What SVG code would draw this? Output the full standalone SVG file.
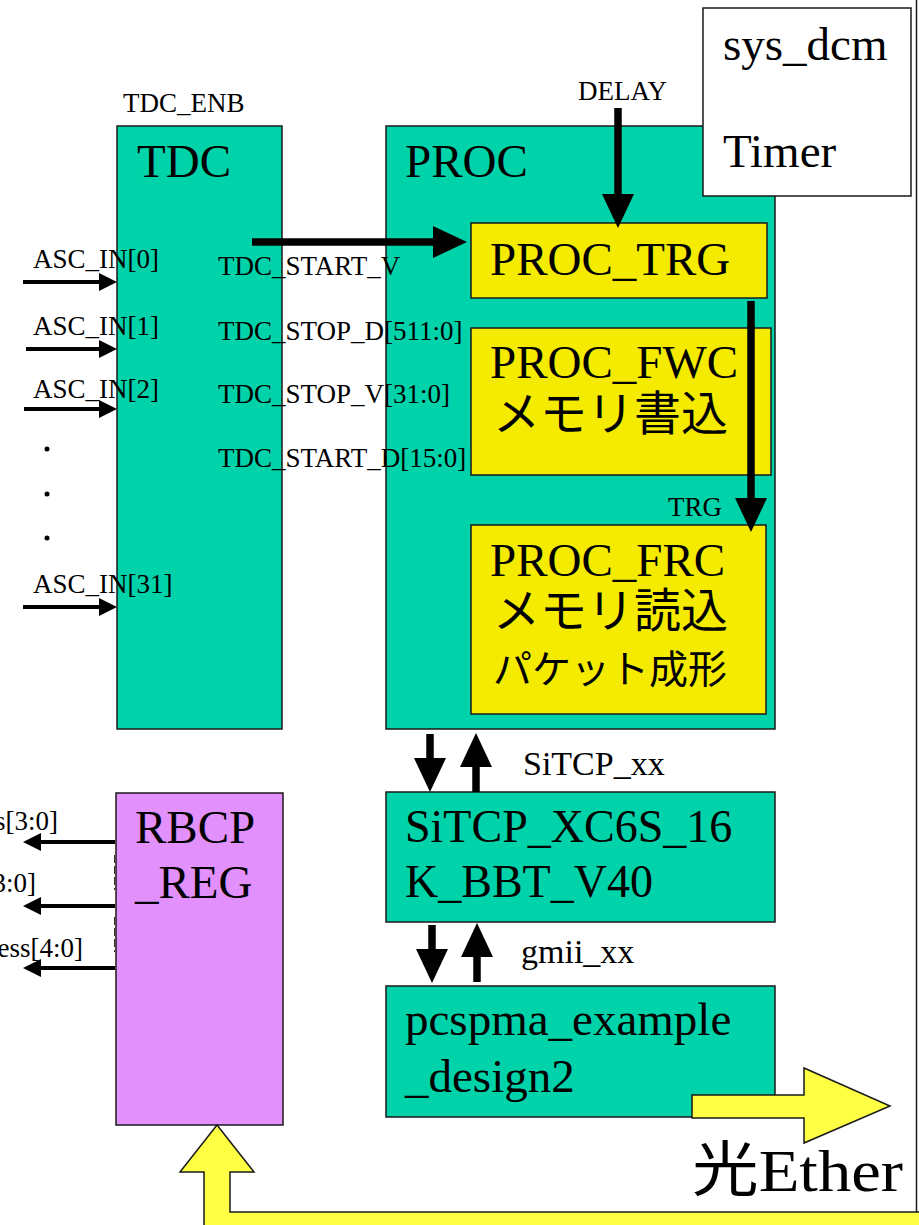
<svg xmlns="http://www.w3.org/2000/svg" width="919" height="1225" viewBox="0 0 919 1225">
<style>
.bg{fill:#ffffff}
.teal{fill:#00D2AA;stroke:#1a1a1a;stroke-width:1.5}
.yel{fill:#F5EB00;stroke:#1a1a1a;stroke-width:1.5}
.pur{fill:#E290FC;stroke:#1a1a1a;stroke-width:1.5}
.wbox{fill:#ffffff;stroke:#1a1a1a;stroke-width:1.5}
.big{fill:#FFFF44;stroke:#1a1a1a;stroke-width:1.5}
.t{font-family:"Liberation Serif","Noto Sans CJK JP",serif;fill:#000}
.s{font-size:27px}
.m{font-size:34px}
.l{font-size:47px}
.j{font-family:"Noto Sans CJK JP","Liberation Serif",serif;fill:#000}
.thick{stroke:#000;stroke-width:7.5;fill:none}
.thin{stroke:#000;stroke-width:4;fill:none}
.tick{stroke:#333;stroke-width:1;stroke-dasharray:8 3;fill:none}
</style>
<defs>
<marker id="ahB" markerUnits="userSpaceOnUse" markerWidth="36" markerHeight="34" viewBox="0 -17 36 34" refX="1" refY="0" orient="auto"><path d="M0,-16 L34,0 L0,16 z" fill="#000"/></marker>
<marker id="ahS" markerUnits="userSpaceOnUse" markerWidth="20" markerHeight="20" viewBox="0 -10 20 20" refX="1" refY="0" orient="auto"><path d="M0,-9 L18,0 L0,9 z" fill="#000"/></marker>
</defs>
<rect class="bg" x="0" y="0" width="919" height="1225"/>

<g id="tdc">
<rect class="teal" x="117" y="126" width="165" height="603"/>
<text class="t l" x="137" y="177">TDC</text>
</g>
<g id="proc">
<rect class="teal" x="386" y="126" width="389" height="603"/>
<text class="t l" x="405" y="177">PROC</text>
</g>
<g id="proc_trg">
<rect class="yel" x="471" y="223" width="296" height="75"/>
<text class="t l" x="490" y="275">PROC_TRG</text>
</g>
<g id="proc_fwc">
<rect class="yel" x="471" y="328" width="300" height="147"/>
<text class="t l" x="490" y="378">PROC_FWC</text>
<text class="j" font-size="47" x="493" y="430">メモリ書込</text>
</g>
<g id="proc_frc">
<rect class="yel" x="471" y="525" width="295" height="189"/>
<text class="t l" x="490" y="576">PROC_FRC</text>
<text class="j" font-size="47" x="493" y="627">メモリ読込</text>
<text class="j" font-size="39" x="493" y="683">パケット成形</text>
</g>
<g id="sys_dcm">
<rect class="wbox" x="703" y="8" width="208" height="188"/>
<text class="t l" x="723" y="60">sys_dcm</text>
<text class="t l" x="723" y="167">Timer</text>
</g>
<g id="sitcp">
<rect class="teal" x="386" y="792" width="389" height="130"/>
<text class="t" font-size="46" x="405" y="842">SiTCP_XC6S_16</text>
<text class="t" font-size="46" x="405" y="897">K_BBT_V40</text>
</g>
<g id="pcspma">
<rect class="teal" x="386" y="986" width="389" height="131"/>
<text class="t l" x="405" y="1035">pcspma_example</text>
<text class="t l" x="405" y="1092">_design2</text>
</g>
<g id="rbcp_reg">
<rect class="pur" x="116" y="793" width="167" height="332"/>
<text class="t l" x="135" y="843">RBCP</text>
<text class="t l" x="135" y="898">_REG</text>
</g>

<g id="labels">
<text class="t s" x="123" y="112">TDC_ENB</text>
<text class="t s" x="578" y="100">DELAY</text>
<text class="t s" x="33" y="268">ASC_IN[0]</text>
<text class="t s" x="33" y="335">ASC_IN[1]</text>
<text class="t s" x="33" y="398">ASC_IN[2]</text>
<text class="t s" x="33" y="593">ASC_IN[31]</text>
<circle cx="47" cy="449" r="2.5" fill="#000"/>
<circle cx="47" cy="494" r="2.5" fill="#000"/>
<circle cx="47" cy="538" r="2.5" fill="#000"/>
<text class="t s" x="218" y="275">TDC_START_V</text>
<text class="t s" x="218" y="340">TDC_STOP_D[511:0]</text>
<text class="t s" x="218" y="403">TDC_STOP_V[31:0]</text>
<text class="t s" x="218" y="467">TDC_START_D[15:0]</text>
<text class="t s" x="668" y="516">TRG</text>
<text class="t m" x="523" y="775">SiTCP_xx</text>
<text class="t m" x="521" y="963">gmii_xx</text>
<text class="t s" x="58" y="830" text-anchor="end">s[3:0]</text>
<text class="t s" x="36" y="892" text-anchor="end">3:0]</text>
<text class="t s" x="83" y="957" text-anchor="end">ess[4:0]</text>
</g>

<g id="connectors">
<line class="thin" x1="23" y1="282" x2="100" y2="282" marker-end="url(#ahS)"/>
<line class="thin" x1="26" y1="349" x2="100" y2="349" marker-end="url(#ahS)"/>
<line class="thin" x1="24" y1="409" x2="100" y2="409" marker-end="url(#ahS)"/>
<line class="thin" x1="23" y1="607" x2="100" y2="607" marker-end="url(#ahS)"/>
<line class="thin" x1="115" y1="842" x2="40" y2="842" marker-end="url(#ahS)"/>
<line class="thin" x1="115" y1="906" x2="40" y2="906" marker-end="url(#ahS)"/>
<line class="thin" x1="115" y1="968" x2="40" y2="968" marker-end="url(#ahS)"/>
<line class="tick" x1="114.5" y1="855" x2="114.5" y2="890"/>
<line class="tick" x1="114.5" y1="917" x2="114.5" y2="952"/>
<line class="thick" x1="252" y1="242" x2="434" y2="242" marker-end="url(#ahB)"/>
<line class="thick" x1="618" y1="108" x2="618" y2="195" marker-end="url(#ahB)"/>
<line class="thick" x1="751" y1="301" x2="751" y2="499" marker-end="url(#ahB)"/>
<line class="thick" x1="430" y1="734" x2="430" y2="759" marker-end="url(#ahB)"/>
<line class="thick" x1="476" y1="792" x2="476" y2="766" marker-end="url(#ahB)"/>
<line class="thick" x1="432" y1="925" x2="432" y2="950" marker-end="url(#ahB)"/>
<line class="thick" x1="477" y1="982" x2="477" y2="956" marker-end="url(#ahB)"/>
<line x1="916.5" y1="0" x2="916.5" y2="1212" stroke="#1a1a1a" stroke-width="1.5"/>
<polygon class="big" points="692,1095 804,1095 804,1068 890,1106 804,1143 804,1118 692,1118"/>
<polygon class="big" points="217,1125 254,1172 230,1172 230,1212 921,1212 921,1230 204,1230 204,1172 180,1172"/>
</g>
<text class="t" font-size="60" x="692" y="1191" textLength="211" lengthAdjust="spacingAndGlyphs">光Ether</text>
</svg>
